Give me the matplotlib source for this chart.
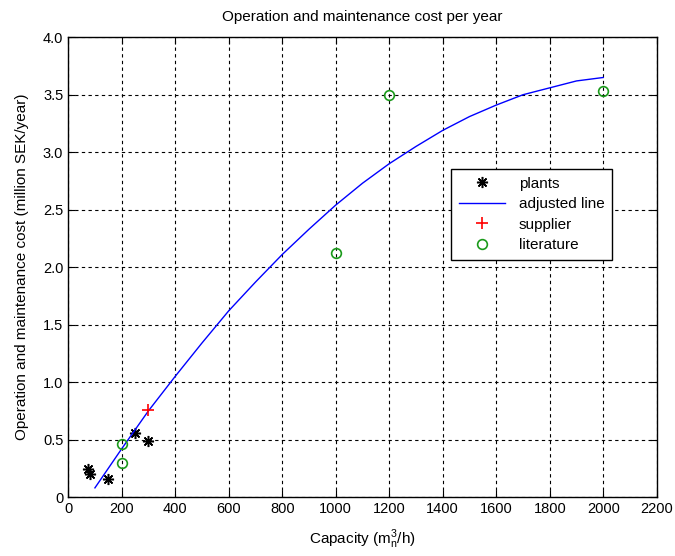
import numpy as np
import matplotlib.pyplot as plt

plt.rcParams['font.family'] = ['Liberation Sans', 'DejaVu Sans']

# --- data ---
plants_x = [75, 80, 150, 250, 300]
plants_y = [0.24, 0.20, 0.16, 0.56, 0.49]

supplier_x = [300]
supplier_y = [0.76]

literature_x = [200, 200, 1000, 1200, 2000]
literature_y = [0.46, 0.30, 2.12, 3.50, 3.53]

line_x = [100, 200, 300, 400, 500, 600, 700, 800, 900, 1000, 1100,
          1200, 1300, 1400, 1500, 1600, 1700, 1800, 1900, 2000]
line_y = [0.08, 0.42, 0.75, 1.05, 1.34, 1.62, 1.87, 2.11, 2.33, 2.54, 2.73,
          2.90, 3.05, 3.19, 3.31, 3.41, 3.50, 3.56, 3.62, 3.65]

x_ticks = np.arange(0, 2201, 200)
y_ticks = np.arange(0, 4.01, 0.5)
y_labels = ['0', '0.5', '1.0', '1.5', '2.0', '2.5', '3.0', '3.5', '4.0']

fig = plt.figure(figsize=(6.75, 5.56), dpi=100)
ax = fig.add_axes([0.101, 0.106, 0.872, 0.827])

# MATLAB-style asterisk: 8 spokes
ax.plot(plants_x, plants_y, linestyle='none', marker=(8, 2, 0), color='black',
        markersize=8, markeredgewidth=1.1, label='plants')
ax.plot(line_x, line_y, color='blue', linewidth=1, label='adjusted line')
ax.plot(supplier_x, supplier_y, 'r+', markersize=9, markeredgewidth=1.2, label='supplier')
ax.plot(literature_x, literature_y, 'o', markerfacecolor='none',
        markeredgecolor='#1a9a1a', markersize=7, markeredgewidth=1.2, label='literature')

ax.set_xlim(0, 2200)
ax.set_ylim(0, 4.0)
ax.set_xticks(x_ticks)
ax.set_yticks(y_ticks)
ax.set_yticklabels(y_labels)
ax.tick_params(direction='in', top=True, right=True, labelsize=10.5, length=5)
ax.grid(True, color='black', linestyle=(0, (3, 3)), linewidth=0.8)
for s in ax.spines.values():
    s.set_linewidth(1)

ax.set_xlabel(r'Capacity (m$_\mathregular{n}^\mathregular{3}$/h)', fontsize=11, labelpad=8)
ax.set_ylabel('Operation and maintenance cost (million SEK/year)', fontsize=11, labelpad=10)
ax.set_title('Operation and maintenance cost per year', fontsize=11, pad=12)

leg = ax.legend(loc='upper left', bbox_to_anchor=(0.638, 0.730), fontsize=11,
                fancybox=False, framealpha=1, edgecolor='black', handlelength=3.0,
                borderpad=0.5, labelspacing=0.42, handletextpad=0.9)
leg.get_frame().set_linewidth(1)

fig.savefig('out.png', dpi=100)
